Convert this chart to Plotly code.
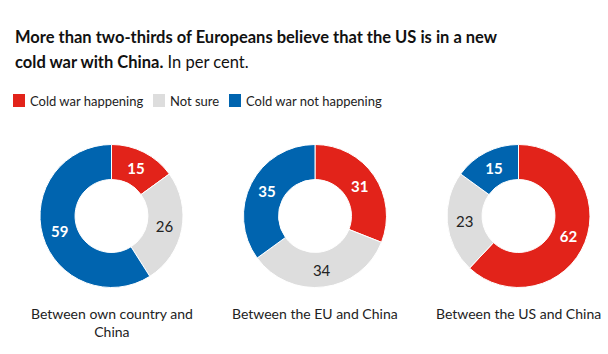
import plotly.graph_objects as go

categories = ["Cold war happening", "Not sure", "Cold war not happening"]
colors = ["#E2231A", "#DDDDDD", "#0064AF"]
pair_labels = ["Between own country and<br>China", "Between the EU and China", "Between the US and China"]
own_country = [15, 26, 59]
eu_china = [31, 34, 35]
us_china = [62, 23, 15]
series = [own_country, eu_china, us_china]

W, H = 608, 354
centers_x = [111.5, 315, 518.5]
center_y = 216
R = 71.5

FONT = "Lato"

fig = go.Figure()
for vals, cx in zip(series, centers_x):
    fig.add_trace(go.Pie(
        labels=categories,
        values=vals,
        hole=0.51,
        sort=False,
        direction="clockwise",
        rotation=0,
        marker=dict(colors=colors, line=dict(color="white", width=1)),
        textposition="inside",
        insidetextorientation="horizontal",
        texttemplate=["<b>%{value}</b>", "%{value}", "<b>%{value}</b>"],
        textfont=dict(family=FONT, size=15, color=["white", "#222222", "white"]),
        hoverinfo="label+value",
        showlegend=False,
        domain=dict(x=[(cx - R) / W, (cx + R) / W],
                    y=[1 - (center_y + R) / H, 1 - (center_y - R) / H]),
    ))

title_lines = [
    "<b>More than two-thirds of Europeans believe that the US is in a new</b>",
    "<b>cold war with China.</b> In per cent.",
]
annotations = []
for i, line in enumerate(title_lines):
    annotations.append(dict(
        x=13 / W, y=1 - (25 + 25 * i) / H, xref="paper", yref="paper",
        xanchor="left", yanchor="top", align="left", showarrow=False,
        text=line, font=dict(family=FONT, size=16.5, color="#111111"),
    ))

for lab, cx in zip(pair_labels, centers_x):
    annotations.append(dict(
        x=cx / W, y=1 - 303 / H, xref="paper", yref="paper", xanchor="center", yanchor="top",
        align="center", showarrow=False, text=lab,
        font=dict(family=FONT, size=14, color="#222222"),
    ))

# legend (squares + text)
legend_x = [13, 153, 229]
shapes = []
for cat, col, lx in zip(categories, colors, legend_x):
    shapes.append(dict(type="rect", xref="paper", yref="paper",
                       x0=lx / W, x1=(lx + 12) / W, y0=1 - 107 / H, y1=1 - 94 / H,
                       fillcolor=col, line=dict(width=0)))
    annotations.append(dict(
        x=(lx + 15) / W, y=1 - 101 / H, xref="paper", yref="paper", xanchor="left", yanchor="middle",
        showarrow=False, text=cat, font=dict(family=FONT, size=13, color="#222222"),
    ))

fig.update_layout(
    width=W, height=H,
    margin=dict(l=0, r=0, t=0, b=0),
    paper_bgcolor="white", plot_bgcolor="white",
    annotations=annotations, shapes=shapes,
)

fig.write_html("out.html")
